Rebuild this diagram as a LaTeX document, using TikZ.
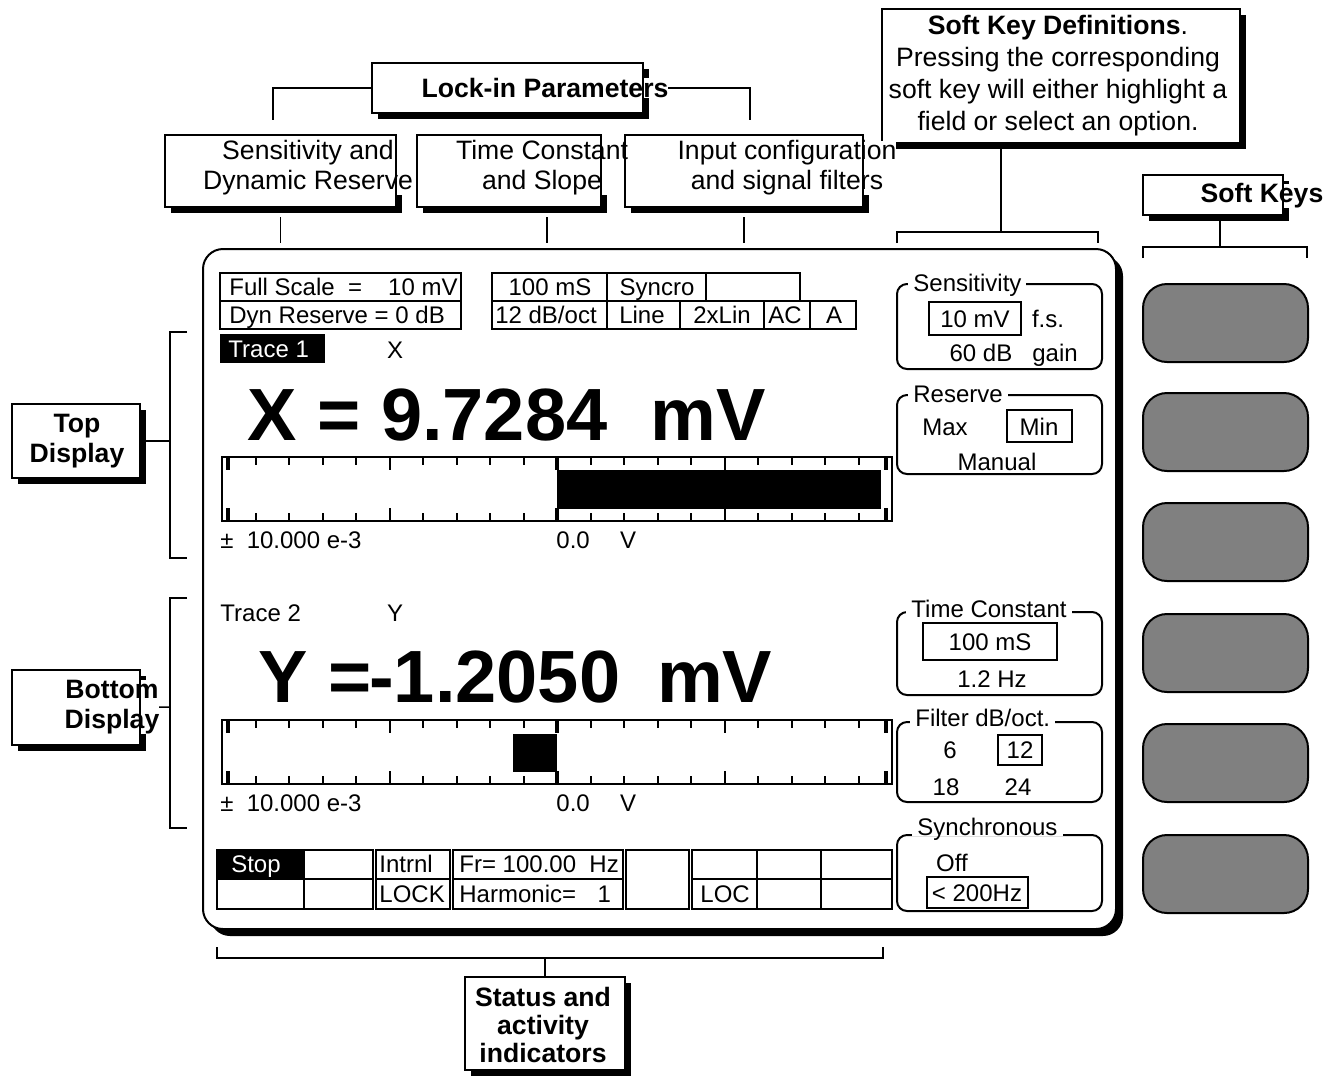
\documentclass[tikz,border=0pt]{standalone}
\usepackage{fontspec}
\setmainfont{Liberation Sans}
\usetikzlibrary{fit, shadows}

\begin{document}
\begin{tikzpicture}[x=0.5pt, y=-0.5pt,
  callout/.style={draw, fill=white, line width=1pt, inner sep=0pt, outer sep=0pt,
    drop shadow={shadow xshift=3pt, shadow yshift=-3pt, opacity=1, fill=black}},
  lbl/.style={font=\fontsize{13.3}{15}\selectfont, align=center, inner sep=0pt},
  blbl/.style={lbl, font=\fontsize{13.3}{15}\selectfont\bfseries},
  over/.style={fill=white},
  txt/.style={font=\fontsize{12}{14}\selectfont, inner sep=0pt, text height=8.6pt, text depth=0pt},
  big/.style={font=\fontsize{37}{40}\selectfont\bfseries, inner sep=0pt, anchor=base west},
  cell/.style={line width=0.8pt},
  panel/.style={line width=1pt, rounded corners=5pt},
  ptitle/.style={txt, fill=white, inner xsep=2.5pt, anchor=west},
  softkey/.style={draw, line width=1pt, fill=black!50, rounded corners=12pt},
  wire/.style={line width=0.75pt}]
\useasboundingbox (0,0) rectangle (1332,1078);

\draw[line width=1pt, fill=white, rounded corners=10pt,
  drop shadow={shadow xshift=3.5pt, shadow yshift=-3.5pt, opacity=1, fill=black}]
  (203,249) rectangle (1116,929);

\node[callout, fit={(372,63) (643,113)}] (lockin) {};
\node[callout, fit={(165,135) (396,207)}] (sensbox) {};
\node[callout, fit={(417,135) (601,207)}] (tcbox) {};
\node[callout, fit={(625,135) (863,207)}] (inbox) {};
\node[callout, fit={(882,9) (1240,143)}] (skdef) {};
\node[callout, fit={(1143,175) (1283,215)}] (softkeys) {};
\node[callout, fit={(12,404) (140,478)}] (topdisp) {};
\node[callout, fit={(12,670) (140,745)}] (botdisp) {};
\node[callout, fit={(465,977) (625,1070)}] (status) {};

\draw[wire] (lockin.west) -| (273,120);
\draw[wire] (lockin.east) -| (750,120);
\draw[wire] ([yshift=-5pt]sensbox.south) -- ++(0,26);
\draw[wire] ([xshift=19pt, yshift=-5pt]tcbox.south) -- ++(0,26);
\draw[wire] ([yshift=-5pt]inbox.south) -- ++(0,26);
\draw[wire] ([xshift=-30pt]skdef.south) -- ++(0,89);
\draw[wire] (897,243) -- (897,232) -- (1098,232) -- (1098,243);
\draw[wire] ([xshift=3.5pt]softkeys.south) -- ++(0,32);
\draw[wire] (1143,258) -- (1143,247) -- (1307,247) -- (1307,258);
\draw[wire] (topdisp.east) -- (170,441);
\draw[wire] (187,332) -- (170,332) -- (170,558) -- (187,558);
\draw[wire] (botdisp.east) -- (170,707);
\draw[wire] (187,598) -- (170,598) -- (170,828) -- (187,828);
\draw[wire] (status.north) -- ++(0,-19);
\draw[wire] (217,947) -- (217,958) -- (883,958) -- (883,947);

\node[blbl, over] (lockin-t) at (545,88) {Lock-in Parameters};
\node[lbl, over] (sens-t) at (308,168) {Sensitivity and\\Dynamic Reserve};
\node[lbl, over] (tc-t) at (542,168) {Time Constant\\and Slope};
\node[lbl, over] (in-t) at (787,168) {Input configuration\\and signal filters};
\node[lbl, font=\fontsize{13.3}{16}\selectfont] (skdef-t) at (1058,76)
  {\textbf{Soft Key Definitions}.\\Pressing the corresponding\\soft key will either highlight a\\field or select an option.};
\node[blbl, over] (softkeys-t) at (1262,196) {Soft Keys};
\node[blbl] (topdisp-t) at (77,441) {Top\\Display};
\node[blbl, over] (botdisp-t) at (112,707) {Bottom\\Display};
\node[blbl, font=\fontsize{13.3}{14}\selectfont\bfseries] (status-t) at (543,1025) {Status and\\activity\\indicators};
\foreach \b in {lockin, sensbox, tcbox, inbox, softkeys, botdisp}
  \draw[line width=1pt] (\b.north east) -- (\b.south east);
\draw[line width=1pt] (inbox.north west) -- (inbox.south west);

\draw[cell] (220,273) rectangle (461,329) (220,301) -- (461,301);
\draw[cell] (492,273) rectangle (800,301) (607,273) -- (607,301) (706,273) -- (706,301);
\draw[cell] (492,301) rectangle (856,329) (607,301) -- (607,329) (680,301) -- (680,329)
  (764,301) -- (764,329) (810,301) -- (810,329);
\node[txt, anchor=west] (fs) at (229,287) {Full Scale\ \ =};
\node[txt, anchor=east] (fsv) at (458,287) {10 mV};
\node[txt, anchor=west] (dr) at (229,315) {Dyn Reserve = 0 dB};
\node[txt] (tcv) at (550,287) {100 mS};
\node[txt] (sync) at (657,287) {Syncro};
\node[txt] (slope) at (546,315) {12 dB/oct};
\node[txt] (src) at (642,315) {Line};
\node[txt] (lin) at (722,315) {2xLin};
\node[txt] (ac) at (785,315) {AC};
\node[txt] (chan) at (834,315) {A};

\fill (220,334) rectangle (325,363);
\node[txt, anchor=west, text=white] (tr1) at (228,349) {Trace 1};
\node[txt] (ch1) at (395,350) {X};
\node[big] (xval) at (247,440) {X = 9.7284\hspace{0.58em}mV};
\node[txt, anchor=west] (tr2) at (220,613) {Trace 2};
\node[txt] (ch2) at (395,613) {Y};
\node[big] (yval) at (258,702) {Y =\kern-0.03em-1.2050\hspace{0.5em}mV};

\foreach \t in {457,720} {
  \draw[cell] (222,\t) rectangle (892,\t+64);
  \foreach \i in {0,...,20} {
    \pgfmathsetmacro\xx{222+33.5*\i+ifthenelse(\i==0,6,0)-ifthenelse(\i==20,6,0)}
    \pgfmathsetmacro\len{ifthenelse(mod(\i,5)==0,13,8)}
    \pgfmathsetmacro\lw{ifthenelse(mod(\i,10)==0,1.8,1)}
    \draw[line width=\lw pt] (\xx,\t) -- (\xx,\t+\len) (\xx,\t+64) -- (\xx,\t+64-\len);
  }
}
\fill (557,470) rectangle (881,509);
\fill (513,734) rectangle (557,772);
\node[txt, anchor=west] (rng1) at (220,540) {±\hspace{0.55em}10.000 e-3};
\node[txt, anchor=west] (zero1) at (556,540) {0.0};
\node[txt] (unit1) at (628,540) {V};
\node[txt, anchor=west] (rng2) at (220,803) {±\hspace{0.55em}10.000 e-3};
\node[txt, anchor=west] (zero2) at (556,803) {0.0};
\node[txt] (unit2) at (628,803) {V};

\fill (217,850) rectangle (304,879);
\draw[cell] (217,850) rectangle (373,909) (304,850) -- (304,909) (217,879) -- (373,879);
\draw[cell] (376,850) rectangle (450,909) (376,879) -- (450,879);
\draw[cell] (453,850) rectangle (623,909) (453,879) -- (623,879);
\draw[cell] (626,850) rectangle (689,909);
\draw[cell] (692,850) rectangle (892,909) (757,850) -- (757,909) (821,850) -- (821,909)
  (692,879) -- (892,879);
\node[txt, text=white] (stop) at (256,864) {Stop};
\node[txt, anchor=west] (ref) at (379,864) {Intrnl};
\node[txt, anchor=west] (lock) at (379,894) {LOCK};
\node[txt, anchor=west] (freq) at (459,864) {Fr= 100.00\ \ Hz};
\node[txt, anchor=west] (harm) at (459,894) {Harmonic=\hspace{0.9em}1};
\node[txt, anchor=west] (loc) at (700,894) {LOC};

\draw[panel] (897,284) rectangle (1102,369);
\node[ptitle] (sens-p) at (908,283) {Sensitivity};
\draw[cell] (929,302) rectangle (1021,335);
\node[txt] (sensv) at (975,319) {10 mV};
\node[txt] (fsl) at (1048,319) {f.s.};
\node[txt] (gain) at (981,353) {60 dB};
\node[txt] (gainl) at (1055,353) {gain};

\draw[panel] (897,395) rectangle (1102,474);
\node[ptitle] (res-p) at (908,394) {Reserve};
\node[txt] (rmax) at (945,427) {Max};
\draw[cell] (1007,410) rectangle (1072,442);
\node[txt] (rmin) at (1039,427) {Min};
\node[txt] (rman) at (997,462) {Manual};

\draw[panel] (897,612) rectangle (1102,695);
\node[ptitle] (tc-p) at (906,609) {Time Constant};
\draw[cell] (923,623) rectangle (1057,660);
\node[txt] (tcp) at (990,642) {100 mS};
\node[txt] (tcf) at (992,679) {1.2 Hz};

\draw[panel] (897,722) rectangle (1102,802);
\node[ptitle] (flt-p) at (910,718) {Filter dB/oct.};
\node[txt] (f6) at (950,750) {6};
\draw[cell] (998,735) rectangle (1042,765);
\node[txt] (f12) at (1020,750) {12};
\node[txt] (f18) at (946,787) {18};
\node[txt] (f24) at (1018,787) {24};

\draw[panel] (897,835) rectangle (1102,911);
\node[ptitle] (syn-p) at (912,827) {Synchronous};
\node[txt] (soff) at (952,863) {Off};
\draw[cell] (927,877) rectangle (1028,908);
\node[txt] (son) at (977,893) {< 200Hz};

\foreach \k in {284,393,503,614,724,835}
  \draw[softkey] (1143,\k) rectangle (1308,\k+78);
\end{tikzpicture}
\end{document}
